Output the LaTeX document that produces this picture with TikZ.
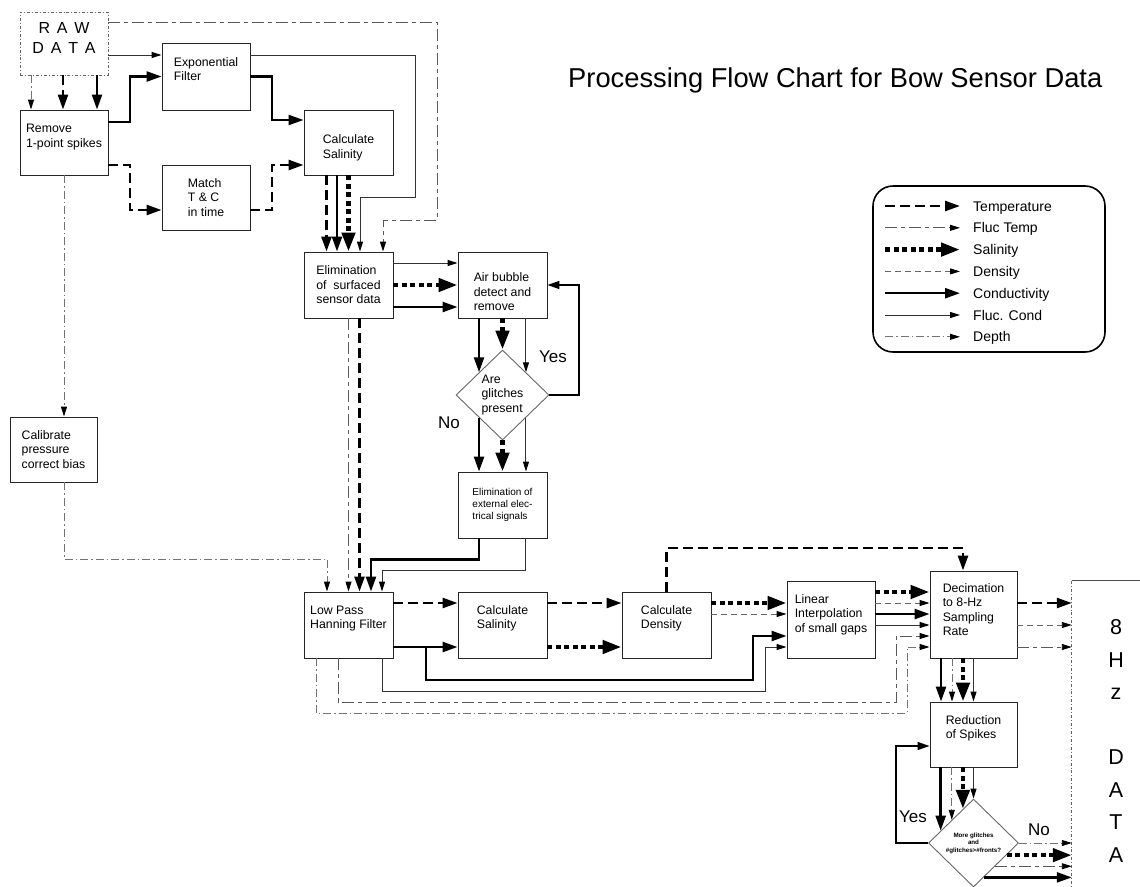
\documentclass[tikz,border=0pt]{standalone}
\usepackage{fontspec}
\setmainfont{Liberation Sans}
\usetikzlibrary{arrows.meta,positioning,shapes.geometric,calc}
\newcommand{\lsp}{\hspace{6.8pt}}
\tikzset{
  box/.style={draw=black!85, line width=0.9pt, minimum width=89pt, minimum height=66pt, inner sep=2pt, align=left, font=\fontsize{12.3}{14.5}\selectfont},
  ask/.style={box, diamond, draw=black!60, minimum width=93pt, minimum height=90pt, inner sep=0pt},
  lift/.style={text depth=#1},
  drop/.style={text height=#1},
  lab/.style={inner sep=0pt, font=\fontsize{17}{20}\selectfont},
  legtext/.style={anchor=west, inner sep=0pt, text height=10pt, text depth=0pt, font=\fontsize{14}{16}\selectfont},
  temp/.style={line width=2.6pt, dash pattern=on 10pt off 5pt, -{Triangle[length=15pt,width=10pt]}},
  ftemp/.style={line width=0.9pt, draw=black!65, dash pattern=on 12pt off 4pt on 4pt off 4pt, -{Triangle[length=10pt,width=6pt,color=black]}},
  sal/.style={line width=4.5pt, dash pattern=on 5pt off 3.5pt, -{Triangle[length=19pt,width=13pt]}},
  dens/.style={line width=0.9pt, draw=black!60, dash pattern=on 6pt off 4pt, -{Triangle[length=10pt,width=6pt,color=black]}},
  cond/.style={line width=2.4pt, -{Triangle[length=15pt,width=10pt]}},
  fcond/.style={line width=1pt, draw=black!80, -{Triangle[length=10pt,width=6pt,color=black]}},
  dep/.style={line width=0.9pt, draw=black!55, dash pattern=on 8pt off 3pt on 1.5pt off 3pt, -{Triangle[length=10pt,width=6pt,color=black]}},
  loopback/.style={line width=1.4pt, -{Triangle[length=12pt,width=8pt]}},
}
\begin{document}
\begin{tikzpicture}[x=1pt, y=-1pt]
\useasboundingbox (0,0) rectangle (1140,886);

% title and legend
\node[anchor=base west, inner sep=0pt, font=\fontsize{27.3}{32}\selectfont] (title) at (568,87) {Processing Flow Chart for Bow Sensor Data};
\node[draw, rounded corners=20pt, line width=1.6pt, minimum width=232pt, minimum height=166pt] (legend) at (989,269) {};
\foreach \sty/\txt [count=\i] in {temp/Temperature, ftemp/Fluc Temp, sal/Salinity, dens/Density, cond/Conductivity, fcond/Fluc. Cond, dep/Depth} {
  \node[legtext] (lg\i) at (973, 184.2+21.8*\i) {\txt};
  \draw[\sty] ([xshift=-88pt]lg\i.west) -- ([xshift=-13pt]lg\i.west);
}

% processing boxes
\node[box, draw=black!60, dashdotted, align=center, minimum width=88pt, minimum height=63pt, font=\fontsize{16}{20}\selectfont, lift=12pt] (raw) at (64,43.5) {R\lsp A\lsp W\\D\lsp A\lsp T\lsp A};
\node[box, minimum width=88pt, minimum height=65pt, lift=13.6pt] (remove) at (64,142.5) {Remove\\1-point spikes};
\node[box, minimum width=88pt, minimum height=67pt, lift=15pt] (expf) at (206,76.5) {Exponential\\Filter};
\node[box, minimum width=88pt, minimum height=65pt] (match) at (206,197.5) {Match\\T \& C\\in time};
\node[box, minimum height=65pt, drop=34.5pt] (sal1) at (348.5,142.5) {Calculate\\Salinity};
\node[box] (surf) at (348.5,285) {Elimination\\of\ \ surfaced\\sensor data};
\node[box, drop=52pt] (air) at (502.5,285) {Air bubble\\detect and\\remove};
\node[ask] (glitch) at (502.5,395) {Are\\glitches\\present};
\node[box, font=\fontsize{10}{12}\selectfont] (elec) at (502.5,505) {Elimination of\\external elec-\\trical signals};
\node[box, minimum width=87pt, minimum height=65pt] (calib) at (53.5,449.5) {Calibrate\\pressure\\correct bias};
\node[box, lift=15.6pt] (lowpass) at (348.5,625) {Low Pass\\Hanning Filter};
\node[box, lift=15.6pt] (sal2) at (502.5,625) {Calculate\\Salinity};
\node[box, lift=15.6pt] (dens) at (666.5,625) {Calculate\\Density};
\node[box, minimum width=88pt, minimum height=77pt, lift=12.6pt] (interp) at (831,619.5) {Linear\\Interpolation\\of small gaps};
\node[box, minimum width=87pt, minimum height=87pt, lift=10pt] (decim) at (973.5,614.5) {Decimation\\to 8-Hz\\Sampling\\Rate};
\node[box, minimum width=87pt, minimum height=65pt, lift=14.6pt] (spikes) at (973.5,734.5) {Reduction\\of Spikes};
\node[ask, minimum width=90pt, minimum height=88pt, align=center, font=\fontsize{6.2}{7.5}\selectfont\bfseries] (more) at (973.5,843) {More glitches\\and\\\#glitches>\#fronts?};
\node[minimum width=88pt, minimum height=320pt, align=center, font=\fontsize{21.5}{32.5}\selectfont] (hz) at (1116,741) {8\\H\\z\\[32.5pt]D\\A\\T\\A};
\draw[black!70, line width=0.9pt] (hz.north east) -- (hz.north west);
\draw[black!60, line width=0.9pt, dashdotted] (hz.north west) -- (hz.south west);

% raw data
\draw[dep]  ([xshift=-33pt]raw.south) -- ([xshift=-33pt]remove.north);
\draw[temp] ([xshift=-1pt]raw.south) -- ([xshift=-1pt]remove.north);
\draw[cond] ([xshift=33pt]raw.south) -- ([xshift=33pt]remove.north);
\draw[fcond] ([yshift=-11.5pt]raw.east) -- ([yshift=-11.5pt]raw.east -| expf.west);
\draw[ftemp] ([yshift=21.5pt]raw.east) -- (437,22) -- (437,220) -| ([xshift=34.5pt]surf.north);

% spikes, filter, time match
\draw[cond] ([yshift=20.5pt]remove.east) -- (130,122) |- (expf.west);
\draw[temp] ([yshift=-22.5pt]remove.east) -- (130,165) |- ([yshift=-12.5pt]match.west);
\draw[dep] (remove.south) -- ([xshift=10.5pt]calib.north);
\draw[cond] (expf.east) -- (272,76.5) |- ([yshift=22.5pt]sal1.west);
\draw[fcond] ([yshift=21.5pt]expf.east) -- (415,55) -- (415,197) -| ([xshift=11.5pt]surf.north);
\draw[temp] ([yshift=-12.5pt]match.east) -- (272,210) |- ([yshift=-22.5pt]sal1.west);
\draw[temp] ([xshift=-22pt]sal1.south) -- ([xshift=-22pt]surf.north);
\draw[cond] ([xshift=-11.5pt]sal1.south) -- ([xshift=-11.5pt]surf.north);
\draw[sal] (sal1.south) -- (surf.north);

% surfaced data
\draw[fcond] ([yshift=22pt]surf.east) -- ([yshift=22pt]surf.east -| air.west);
\draw[sal] (surf.east) -- (air.west);
\draw[cond] ([yshift=-22pt]surf.east) -- ([yshift=-22pt]surf.east -| air.west);
\draw[ftemp] (surf.south) -- (lowpass.north);
\draw[temp] ([xshift=11pt]surf.south) -- ([xshift=11pt]lowpass.north);

% air bubble loop
\coordinate (gnw) at ($(glitch.north)!0.5!(glitch.west)$);
\coordinate (gne) at ($(glitch.north)!0.5!(glitch.east)$);
\coordinate (gsw) at ($(glitch.south)!0.5!(glitch.west)$);
\coordinate (gse) at ($(glitch.south)!0.5!(glitch.east)$);
\draw[cond] (air.south -| gnw) -- (gnw);
\draw[sal] (air.south) -- (glitch.north);
\draw[fcond] (air.south -| gne) -- (gne);
\draw[cond] (gsw) -- (gsw |- elec.north);
\draw[sal] (glitch.south) -- (elec.north);
\draw[fcond] (gse) -- (gse |- elec.north);
\draw[loopback] (glitch.east) -- (579,395) |- (air.east);
\node[lab] (yes1) at (553,357) {Yes};
\node[lab] (no1) at (449,423) {No};

% into the low pass filter
\draw[cond] (gsw |- elec.south) -- ++(0,21) -| ([xshift=22.5pt]lowpass.north);
\draw[fcond] (gse |- elec.south) -- ++(0,32) -| ([xshift=33.5pt]lowpass.north);
\draw[dep] ([xshift=10.5pt]calib.south) -- (64,559) -| ([xshift=-21.5pt]lowpass.north);

% low pass outputs
\draw[temp] ([yshift=22pt]lowpass.east) -- ([yshift=22pt]lowpass.east -| sal2.west);
\draw[cond] ([yshift=-22pt]lowpass.east) -- ([yshift=-22pt]lowpass.east -| sal2.west);
\draw[cond] ([yshift=-22pt]lowpass.east) -- (426,647) -- (426,680) -| (753,636) -- ([yshift=-16.5pt]interp.west);
\draw[fcond] ([xshift=33.5pt]lowpass.south) -- (382,691) -| (765,647) -- ([yshift=-27.5pt]interp.west);
\draw[ftemp] ([xshift=-10.5pt]lowpass.south) -- (338,702) -| (896,636) -- ([yshift=-21.5pt]decim.west);
\draw[dep] ([xshift=-32.5pt]lowpass.south) -- (316,713) -| (907,647) -- ([yshift=-32.5pt]decim.west);

% salinity, density
\draw[temp] ([yshift=22pt]sal2.east) -- ([yshift=22pt]sal2.east -| dens.west);
\draw[sal] ([yshift=-22pt]sal2.east) -- ([yshift=-22pt]sal2.east -| dens.west);
\draw[temp] (dens.north) -- (666.5,548) -| ([xshift=-10.5pt]decim.north);
\draw[sal] ([yshift=22pt]dens.east) -- ([yshift=22pt]dens.east -| interp.west);
\draw[dens] ([yshift=11pt]dens.east) -- ([yshift=11pt]dens.east -| interp.west);

% interpolation to decimation
\draw[sal] ([yshift=27.5pt]interp.east) -- ([yshift=27.5pt]interp.east -| decim.west);
\draw[dens] ([yshift=16.5pt]interp.east) -- ([yshift=16.5pt]interp.east -| decim.west);
\draw[cond] ([yshift=5.5pt]interp.east) -- ([yshift=5.5pt]interp.east -| decim.west);
\draw[fcond] ([yshift=-5.5pt]interp.east) -- ([yshift=-5.5pt]interp.east -| decim.west);

% decimation outputs
\draw[temp] ([yshift=11.5pt]decim.east) -- ([yshift=11.5pt]decim.east -| hz.west);
\draw[dens] ([yshift=-10.5pt]decim.east) -- ([yshift=-10.5pt]decim.east -| hz.west);
\draw[ftemp] ([yshift=-32.5pt]decim.east) -- ([yshift=-32.5pt]decim.east -| hz.west);
\draw[cond] ([xshift=-32.5pt]decim.south) -- ([xshift=-32.5pt]spikes.north);
\draw[dep] ([xshift=-21.5pt]decim.south) -- ([xshift=-21.5pt]spikes.north);
\draw[sal] ([xshift=-10.5pt]decim.south) -- ([xshift=-10.5pt]spikes.north);
\draw[fcond] (decim.south) -- (spikes.north);

% spike reduction loop
\coordinate (m1) at ($(more.north)!0.722!(more.west)$);
\coordinate (m2) at ($(more.north)!0.478!(more.west)$);
\coordinate (m3) at ($(more.north)!0.233!(more.west)$);
\coordinate (n1) at ($(more.east)!0.273!(more.south)$);
\coordinate (n2) at ($(more.east)!0.523!(more.south)$);
\coordinate (n3) at ($(more.east)!0.773!(more.south)$);
\draw[cond] (spikes.south -| m1) -- (m1);
\draw[dep] (spikes.south -| m2) -- (m2);
\draw[sal] (spikes.south -| m3) -- (m3);
\draw[fcond] (spikes.south) -- (more.north);
\draw[loopback] (more.west) -- (896,843) |- ([yshift=-11.5pt]spikes.west);
\draw[dep] (more.east) -- (more.east -| hz.west);
\draw[sal] (n1) -- (n1 -| hz.west);
\draw[ftemp] (n2) -- (n2 -| hz.west);
\draw[cond] (n3) -- (n3 -| hz.west);
\node[lab] (yes2) at (913,817) {Yes};
\node[lab] (no2) at (1039,830) {No};
\end{tikzpicture}
\end{document}
